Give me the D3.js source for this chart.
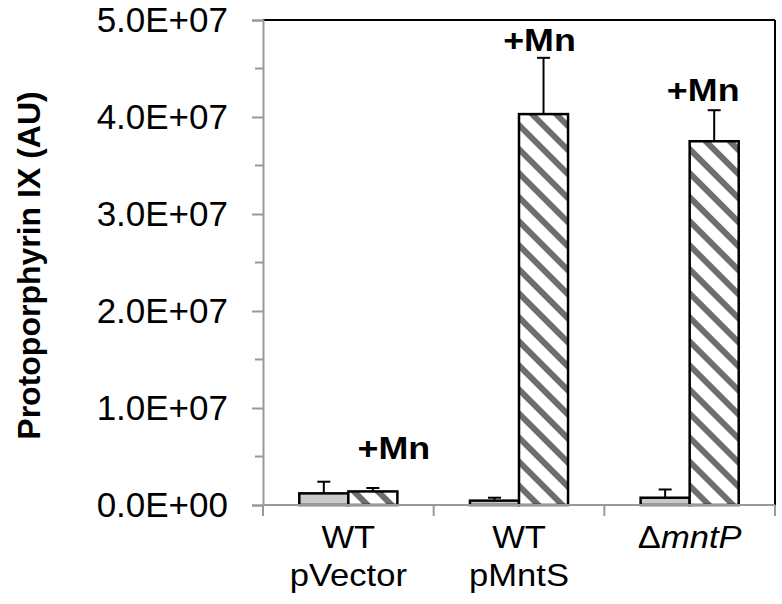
<!DOCTYPE html>
<html>
<head>
<meta charset="utf-8">
<script src="https://cdn.jsdelivr.net/npm/d3@7"></script>
<style>
  body { margin: 0; background: #fff; }
  svg { display: block; font-family: "Liberation Sans", Arial, sans-serif; }
</style>
</head>
<body>
<svg id="chart" width="782" height="604"></svg>
<script>
// data
const categories = ["WT|pVector", "WT|pMntS", "ΔmntP"];
const noMn = [1.2e6, 0.45e6, 0.75e6];
const noMnErr = [1.2e6, 0.3e6, 0.85e6];
const withMn = [1.4e6, 4.03e7, 3.75e7];
const withMnErr = [0.35e6, 0.58e7, 0.32e7];
const yTicks = [0, 1e7, 2e7, 3e7, 4e7, 5e7];
const yMinor = [0.5e7, 1.5e7, 2.5e7, 3.5e7, 4.5e7];
// where the "+Mn" notes sit (value of baseline, x shift from hatched bar)
const mnLabelVal = [4.7e6, 4.68e7, 4.17e7];
const mnLabelDx = [21, -4, -11];

const svg = d3.select("#chart");
const margin = { top: 20, right: 7, bottom: 99, left: 263 };
const width = 782 - margin.left - margin.right;
const height = 604 - margin.top - margin.bottom;

const g = svg.append("g")
    .attr("transform", `translate(${margin.left},${margin.top})`);

// hatch pattern
const defs = svg.append("defs");
const pat = defs.append("pattern")
    .attr("id", "hatch")
    .attr("patternUnits", "userSpaceOnUse")
    .attr("width", 17)
    .attr("height", 17)
    .attr("patternTransform", "rotate(-45)");
pat.append("rect").attr("width", 17).attr("height", 17).attr("fill", "#fff");
pat.append("rect").attr("x", 0).attr("width", 6).attr("height", 17).attr("fill", "#6e6e6e");

const x = d3.scaleBand()
    .domain(categories)
    .range([0, width]);

const xInner = d3.scaleBand()
    .domain(["noMn", "withMn"])
    .range([0, x.bandwidth()])
    .paddingOuter(0.74);

const y = d3.scaleLinear()
    .domain([0, 5e7])
    .range([height, 0]);

// frame: top and right in black
g.append("line")
    .attr("x1", 0).attr("x2", width)
    .attr("y1", 0).attr("y2", 0)
    .attr("stroke", "#000").attr("stroke-width", 2);
g.append("line")
    .attr("x1", width).attr("x2", width)
    .attr("y1", 0).attr("y2", height)
    .attr("stroke", "#000").attr("stroke-width", 2);

// y axis
const yAxis = g.append("g")
    .call(d3.axisLeft(y).tickValues(yTicks).tickSize(11).tickPadding(24)
        .tickFormat(d => d3.format(".1e")(d).replace("e+", "E+0").replace(/E\+0(\d\d)/, "E+$1")));
yAxis.select(".domain").attr("stroke", "#999").attr("stroke-width", 2);
yAxis.selectAll(".tick line").attr("stroke", "#999").attr("stroke-width", 2);
yAxis.selectAll(".tick text")
    .attr("font-size", "35px")
    .attr("fill", "#000")
    .attr("font-family", "Liberation Sans, Arial, sans-serif");

g.append("g")
    .selectAll("line")
    .data(yMinor)
    .join("line")
    .attr("x1", -8).attr("x2", 0)
    .attr("y1", d => y(d)).attr("y2", d => y(d))
    .attr("stroke", "#999").attr("stroke-width", 2);

// bars
const groups = g.append("g")
    .selectAll("g")
    .data(categories)
    .join("g")
    .attr("transform", d => `translate(${x(d)},0)`);

groups.append("rect")
    .attr("x", xInner("noMn"))
    .attr("width", xInner.bandwidth())
    .attr("y", (d, i) => y(noMn[i]))
    .attr("height", (d, i) => height - y(noMn[i]))
    .attr("fill", "#c9c9c9")
    .attr("stroke", "#000")
    .attr("stroke-width", 2.5);

groups.append("rect")
    .attr("x", xInner("withMn"))
    .attr("width", xInner.bandwidth())
    .attr("y", (d, i) => y(withMn[i]))
    .attr("height", (d, i) => height - y(withMn[i]))
    .attr("fill", "url(#hatch)")
    .attr("stroke", "#000")
    .attr("stroke-width", 2.5);

// error bars (upper only)
const errDraw = (key, vals, errs) => {
    const cx = xInner(key) + xInner.bandwidth() / 2;
    groups.append("line")
        .attr("x1", cx).attr("x2", cx)
        .attr("y1", (d, i) => y(vals[i]))
        .attr("y2", (d, i) => y(vals[i] + errs[i]))
        .attr("stroke", "#000").attr("stroke-width", 2);
    groups.append("line")
        .attr("x1", cx - 6.5).attr("x2", cx + 6.5)
        .attr("y1", (d, i) => y(vals[i] + errs[i]))
        .attr("y2", (d, i) => y(vals[i] + errs[i]))
        .attr("stroke", "#000").attr("stroke-width", 2);
};
errDraw("noMn", noMn, noMnErr);
errDraw("withMn", withMn, withMnErr);

// +Mn notes (slightly wide lettering, like the original)
groups.append("text")
    .attr("transform", (d, i) =>
        `translate(${xInner("withMn") + xInner.bandwidth() / 2 + mnLabelDx[i]},${y(mnLabelVal[i])}) scale(1.12,1)`)
    .attr("text-anchor", "middle")
    .attr("font-size", "32px")
    .attr("font-weight", "bold")
    .text("+Mn");

// x axis
const xAxis = g.append("g")
    .attr("transform", `translate(0,${height})`);
xAxis.append("line")
    .attr("x1", 0).attr("x2", width)
    .attr("stroke", "#999").attr("stroke-width", 2);
xAxis.selectAll(".sep")
    .data([0, 1, 2, 3])
    .join("line")
    .attr("x1", d => d * x.step()).attr("x2", d => d * x.step())
    .attr("y1", 0).attr("y2", 11)
    .attr("stroke", "#999").attr("stroke-width", 2);

const labels = xAxis.selectAll(".lab")
    .data(categories)
    .join("text")
    .attr("text-anchor", "middle")
    .attr("font-size", "32px")
    .attr("transform", d => `translate(${x(d) + x.bandwidth() / 2},43) scale(1.08,1)`);

labels.each(function (d) {
    const t = d3.select(this);
    if (d.startsWith("Δ")) {
        t.append("tspan").text("Δ");
        t.append("tspan").attr("font-style", "italic").text(d.slice(1));
    } else {
        d.split("|").forEach((part, k) => {
            t.append("tspan").attr("x", 0).attr("dy", k === 0 ? 0 : 38).text(part);
        });
    }
});

// y title
svg.append("text")
    .attr("transform", `translate(40,${margin.top + height / 2 + 3}) rotate(-90)`)
    .attr("text-anchor", "middle")
    .attr("font-size", "32px")
    .attr("font-weight", "bold")
    .text("Protoporphyrin IX (AU)");
</script>
</body>
</html>
